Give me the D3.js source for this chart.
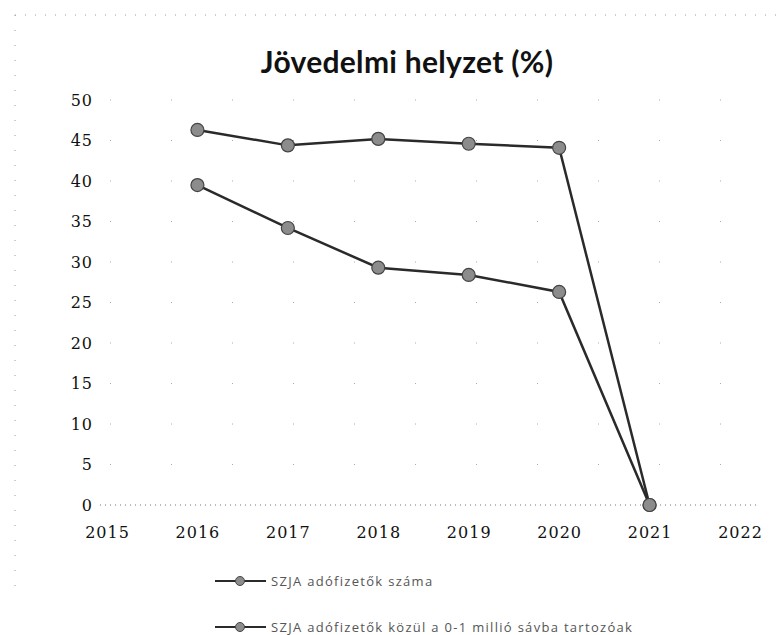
<!DOCTYPE html>
<html>
<head>
<meta charset="utf-8">
<script src="https://cdn.jsdelivr.net/npm/d3@7"></script>
<style>
  body { margin: 0; background: #fff; }
</style>
</head>
<body>
<div id="chart"></div>
<script>
var years = [2016, 2017, 2018, 2019, 2020, 2021];
var taxpayers = [46.3, 44.4, 45.2, 44.6, 44.1, 0];      // SZJA adófizetők száma
var lowBand = [39.5, 34.2, 29.3, 28.4, 26.3, 0];        // 0-1 millió sávba tartozók
var seriesNames = ["SZJA adófizetők száma", "SZJA adófizetők közül a 0-1 millió sávba tartozóak"];
var yTicks = [0, 5, 10, 15, 20, 25, 30, 35, 40, 45, 50];
var xTicks = [2015, 2016, 2017, 2018, 2019, 2020, 2021, 2022];

var width = 779, height = 635;

var svg = d3.select("#chart").append("svg")
  .attr("width", width)
  .attr("height", height);

// faint dotted frame top and left
svg.append("line").attr("x1", 15).attr("x2", 779).attr("y1", 15).attr("y2", 15)
  .attr("stroke", "#999").attr("stroke-width", 1).attr("stroke-dasharray", "1,9");
svg.append("line").attr("x1", 15).attr("x2", 15).attr("y1", 15).attr("y2", 600)
  .attr("stroke", "#999").attr("stroke-width", 1).attr("stroke-dasharray", "1,14");

var x = d3.scaleLinear().domain([2015, 2022]).range([107, 740]);
var y = d3.scaleLinear().domain([0, 50]).range([505, 100]);

// title
svg.append("text")
  .attr("x", 407).attr("y", 73)
  .attr("text-anchor", "middle")
  .style("font-family", "Lato, sans-serif")
  .style("font-weight", "bold")
  .style("font-size", "30px")
  .style("letter-spacing", "0.3px")
  .attr("fill", "#111")
  .text("Jövedelmi helyzet (%)");

// sparse gridlines
svg.append("g").selectAll("line")
  .data(yTicks.slice(1))
  .enter().append("line")
  .attr("x1", 110).attr("x2", 760)
  .attr("y1", function(d) { return y(d); })
  .attr("y2", function(d) { return y(d); })
  .attr("stroke", "#aaa")
  .attr("stroke-width", 1)
  .attr("stroke-dasharray", "1,60");

// zero line
svg.append("line")
  .attr("x1", 100).attr("x2", 760)
  .attr("y1", y(0)).attr("y2", y(0))
  .attr("stroke", "#777")
  .attr("stroke-width", 1)
  .attr("stroke-dasharray", "1,4");

// y axis labels
var yAxis = d3.axisLeft(y).tickValues(yTicks).tickSize(0).tickPadding(0);
var gy = svg.append("g").attr("transform", "translate(93,0)").call(yAxis);
gy.select(".domain").remove();
gy.selectAll("text")
  .style("font-family", "'DejaVu Serif', serif")
  .style("font-size", "16px")
  .style("letter-spacing", "1px")
  .attr("fill", "#111");

// x axis labels
var xAxis = d3.axisBottom(x).tickValues(xTicks).tickFormat(d3.format("d")).tickSize(0).tickPadding(0);
var gx = svg.append("g").attr("transform", "translate(0,527)").call(xAxis);
gx.select(".domain").remove();
gx.selectAll("text")
  .style("font-family", "'DejaVu Serif', serif")
  .style("font-size", "16px")
  .style("letter-spacing", "1px")
  .attr("fill", "#111");

var line = d3.line()
  .x(function(d) { return x(d[0]); })
  .y(function(d) { return y(d[1]); });

var series = [taxpayers, lowBand];

series.forEach(function(vals) {
  var pts = years.map(function(yr, i) { return [yr, vals[i]]; });
  svg.append("path")
    .datum(pts)
    .attr("d", line)
    .attr("fill", "none")
    .attr("stroke", "#2a2a2a")
    .attr("stroke-width", 2.5);
  svg.append("g").selectAll("circle")
    .data(pts)
    .enter().append("circle")
    .attr("cx", function(d) { return x(d[0]); })
    .attr("cy", function(d) { return y(d[1]); })
    .attr("r", 6.5)
    .attr("fill", "#8c8c8c")
    .attr("stroke", "#444")
    .attr("stroke-width", 1.2);
});

// legend
var legend = svg.append("g").selectAll("g")
  .data(seriesNames)
  .enter().append("g")
  .attr("transform", function(d, i) { return "translate(215," + (581 + i * 46) + ")"; });

legend.append("line")
  .attr("x1", 0).attr("x2", 51)
  .attr("stroke", "#2a2a2a").attr("stroke-width", 2);
legend.append("circle")
  .attr("cx", 25).attr("r", 4.5)
  .attr("fill", "#8c8c8c").attr("stroke", "#444");
legend.append("text")
  .attr("x", 56).attr("dy", "0.35em")
  .style("font-family", "'Open Sans', sans-serif")
  .style("font-size", "13px")
  .style("letter-spacing", "1.3px")
  .attr("fill", "#555")
  .text(function(d) { return d; });
</script>
</body>
</html>
